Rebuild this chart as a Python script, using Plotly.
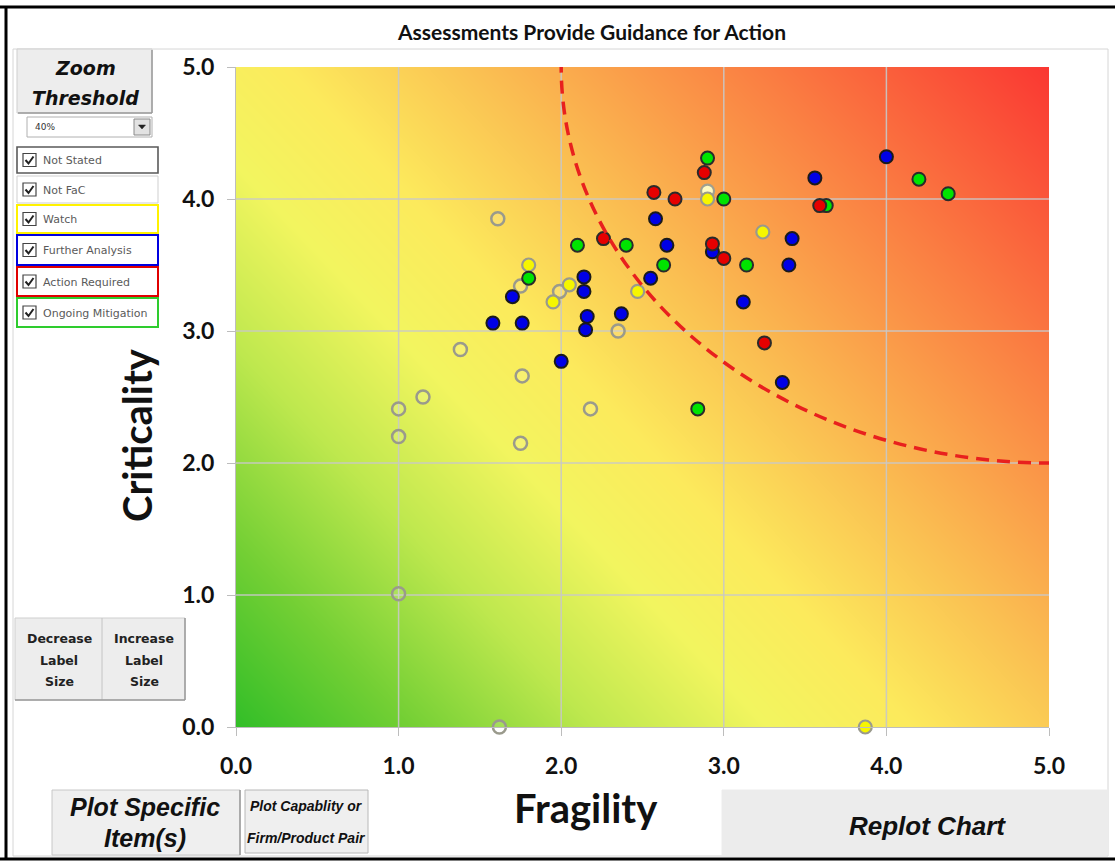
import plotly.graph_objects as go

# ---------------- data ----------------
x_ticks = [0, 1, 2, 3, 4, 5]
y_ticks = [0, 1, 2, 3, 4, 5]
tick_text = ["0.0", "1.0", "2.0", "3.0", "4.0", "5.0"]

# background risk field (columns = fragility 0..5, rows = criticality 0..5)
risk_x = [0, 1, 2, 3, 4, 5]
risk_y = [0, 1, 2, 3, 4, 5]
risk_z = [
    [0.0, 1.3, 2.6, 3.9, 5.2, 6.5],
    [1.0, 2.3, 3.6, 4.9, 6.2, 7.5],
    [2.0, 3.3, 4.6, 5.9, 7.2, 8.5],
    [3.0, 4.3, 5.6, 6.9, 8.2, 9.5],
    [4.0, 5.3, 6.6, 7.9, 9.2, 10.5],
    [5.0, 6.3, 7.6, 8.9, 10.2, 11.5],
]

not_stated_x = [1.61, 1.38, 1.00, 1.00, 1.15, 1.75, 1.99, 1.76, 1.75, 2.18, 2.35, 1.00, 1.62]
not_stated_y = [3.85, 2.86, 2.41, 2.20, 2.50, 3.34, 3.30, 2.66, 2.15, 2.41, 3.00, 1.01, 0.00]

not_fac_x = [2.90]
not_fac_y = [4.06]

watch_x = [1.80, 2.05, 1.95, 2.47, 3.24, 2.90, 3.87]
watch_y = [3.50, 3.35, 3.22, 3.30, 3.75, 4.00, 0.00]

further_x = [1.58, 1.76, 2.16, 2.15, 2.00, 1.70, 2.14, 2.14, 2.37, 2.58, 2.65, 2.55,
             2.93, 3.12, 3.42, 3.40, 3.56, 3.36, 4.00]
further_y = [3.06, 3.06, 3.11, 3.01, 2.77, 3.26, 3.41, 3.30, 3.13, 3.85, 3.65, 3.40,
             3.60, 3.22, 3.70, 3.50, 4.16, 2.61, 4.32]

mitig_x = [1.80, 2.10, 2.40, 2.63, 2.90, 3.00, 3.14, 3.63, 4.20, 4.38, 2.84]
mitig_y = [3.40, 3.65, 3.65, 3.50, 4.31, 4.00, 3.50, 3.95, 4.15, 4.04, 2.41]

action_x = [2.57, 2.70, 2.26, 2.88, 2.93, 3.00, 3.25, 3.59]
action_y = [4.05, 4.00, 3.70, 4.20, 3.66, 3.55, 2.91, 3.95]

# threshold arc: circle centred at (5,5) with radius 3
arc_cx, arc_cy, arc_r = 5, 5, 3

categories = ["Not Stated", "Not FaC", "Watch", "Further Analysis",
              "Action Required", "Ongoing Mitigation"]
category_colors = ["#5a5a5a", "#cfcfcf", "#fff200", "#0000e0", "#e00000", "#2ecc2e"]

# ---------------- layout geometry ----------------
W, H = 1115, 862
PL, PR, PT, PB = 236, 1049, 67, 727


def px(xp):
    return (xp - PL) / (PR - PL)


def py(yp):
    return (PB - yp) / (PB - PT)


fig = go.Figure()

fig.add_trace(go.Heatmap(
    x=risk_x, y=risk_y, z=risk_z, zsmooth="best", showscale=False,
    zmin=0, zmax=11.5, hoverinfo="skip",
    colorscale=[
        [0.00, "rgb(50,190,40)"],
        [0.12, "rgb(115,207,52)"],
        [0.25, "rgb(190,232,78)"],
        [0.37, "rgb(242,245,95)"],
        [0.47, "rgb(252,234,92)"],
        [0.60, "rgb(250,192,82)"],
        [0.80, "rgb(250,125,66)"],
        [1.00, "rgb(250,55,50)"],
    ],
))

# gridlines above the gradient (from tick arrays)
gx, gy = [], []
for v in x_ticks[1:-1]:
    gx += [v, v, None]
    gy += [y_ticks[0], y_ticks[-1], None]
for v in y_ticks[1:-1]:
    gx += [x_ticks[0], x_ticks[-1], None]
    gy += [v, v, None]
fig.add_trace(go.Scatter(x=gx, y=gy, mode="lines", hoverinfo="skip",
                         line=dict(color="rgba(200,200,200,0.9)", width=1.5),
                         showlegend=False))


def add_points(xs, ys, name, fill, outline, lw):
    fig.add_trace(go.Scatter(
        x=xs, y=ys, mode="markers", name=name, cliponaxis=False,
        marker=dict(size=13, color=fill, line=dict(color=outline, width=lw)),
        showlegend=False))


add_points(not_stated_x, not_stated_y, "Not Stated", "rgba(255,255,255,0.12)", "#9a9a8c", 2.5)
add_points(not_fac_x, not_fac_y, "Not FaC", "rgba(255,255,200,0.95)", "#a0a090", 2.2)
add_points(watch_x, watch_y, "Watch", "#f6f600", "#9a9a8c", 2.2)
add_points(mitig_x, mitig_y, "Ongoing Mitigation", "#00e400", "#2a2a2a", 2)
add_points(further_x, further_y, "Further Analysis", "#0000e6", "#1a1a1a", 2)
add_points(action_x, action_y, "Action Required", "#e60000", "#2a2a2a", 2)

shapes = []
# threshold arc (clipped to plot area)
shapes.append(dict(type="circle", xref="x", yref="y",
                   x0=arc_cx - arc_r, x1=arc_cx + arc_r, y0=arc_cy - arc_r, y1=arc_cy + arc_r,
                   line=dict(color="#e8201e", width=3.5, dash="13px,8px"), layer="above"))


def rect(x0, y0, x1, y1, fill="rgba(0,0,0,0)", line="#c8c8c8", lw=1):
    shapes.append(dict(type="rect", xref="paper", yref="paper",
                       x0=px(x0), x1=px(x1), y0=py(y1), y1=py(y0),
                       fillcolor=fill, line=dict(color=line, width=lw), layer="above"))


def hline(x0, x1, y, color, lw):
    shapes.append(dict(type="line", xref="paper", yref="paper", x0=px(x0), x1=px(x1),
                       y0=py(y), y1=py(y), line=dict(color=color, width=lw), layer="above"))


def vline(x, y0, y1, color, lw):
    shapes.append(dict(type="line", xref="paper", yref="paper", x0=px(x), x1=px(x),
                       y0=py(y0), y1=py(y1), line=dict(color=color, width=lw), layer="above"))


annotations = []


def text(x, y, s, size, family="Lato", color="#111", bold=False, italic=False,
         xanchor="center", angle=0):
    annotations.append(dict(
        x=px(x), y=py(y), xref="paper", yref="paper", text=s, showarrow=False,
        xanchor=xanchor, yanchor="middle", textangle=angle,
        font=dict(family=family, size=size, color=color,
                  weight="bold" if bold else "normal",
                  style="italic" if italic else "normal")))


# chart area border and outer frame
rect(13, 49, 1108, 856, line="#d6d6d6", lw=1)
hline(0, 1115, 7, "#000", 3)
vline(6, 7, 860, "#000", 3)
hline(0, 1115, 859, "#000", 3)

# title
text(591, 31, "Assessments Provide Guidance for Action", 21, bold=True)

# zoom threshold button
rect(17, 49, 152, 113, fill="#ededed", line="#cfcfcf")
vline(152, 50, 113, "#9a9a9a", 1.5)
hline(18, 152, 113, "#9a9a9a", 1.5)
text(85, 68, "Zoom", 19, family="DejaVu Sans", bold=True, italic=True)
text(85, 98, "Threshold", 19, family="DejaVu Sans", bold=True, italic=True)

# dropdown
rect(27, 117, 152, 137, fill="#ffffff", line="#b0b0b0")
text(33, 127, "40%", 9, family="DejaVu Sans", color="#333", xanchor="left")
rect(134, 119, 150, 135, fill="#e2e2e2", line="#8a8a8a")
shapes.append(dict(type="path", xref="paper", yref="paper",
                   path=f"M {px(138.5)},{py(125)} L {px(145.5)},{py(125)} L {px(142)},{py(129)} Z",
                   fillcolor="#222", line=dict(color="#222", width=0.5), layer="above"))

# checkbox list
item_boxes = [(147, 173), (176, 203), (205, 233), (235, 265), (267, 296), (298, 327)]
item_lw = [1.6, 1, 2, 2, 2, 2]
for (y0, y1), name, col, lw in zip(item_boxes, categories, category_colors, item_lw):
    rect(17, y0, 158, y1, fill="#ffffff", line=col, lw=lw)
    cy = (y0 + y1) / 2
    rect(23, cy - 6.5, 36, cy + 6.5, fill="#ffffff", line="#444", lw=1.2)
    shapes.append(dict(type="path", xref="paper", yref="paper",
                       path=f"M {px(25.5)},{py(cy)} L {px(28.5)},{py(cy + 3.5)} L {px(33.5)},{py(cy - 3.5)}",
                       line=dict(color="#222", width=2), layer="above"))
    text(41, cy + 0.5, name, 11, family="DejaVu Sans", color="#5a5a5a", xanchor="left")

# label size buttons
rect(15, 618, 185, 700, fill="#ededed", line="#cfcfcf")
vline(102, 618, 700, "#c4c4c4", 1)
vline(185, 618, 700, "#9a9a9a", 1.5)
hline(15, 185, 700, "#9a9a9a", 1.5)
for cx, word in [(59, "Decrease"), (144, "Increase")]:
    text(cx, 638, word, 12.5, family="DejaVu Sans", bold=True, color="#222")
    text(cx, 660, "Label", 12.5, family="DejaVu Sans", bold=True, color="#222")
    text(cx, 681, "Size", 12.5, family="DejaVu Sans", bold=True, color="#222")

# bottom buttons
rect(52, 790, 240, 855, fill="#efefef", line="#c8c8c8")
vline(240, 790, 855, "#9a9a9a", 1.5)
text(145, 807, "Plot Specific", 25, family="Liberation Sans", bold=True, italic=True)
text(145, 838, "Item(s)", 25, family="Liberation Sans", bold=True, italic=True)

rect(245, 790, 368, 853, fill="#efefef", line="#b8b8b8")
text(306, 806, "Plot Capablity or", 14, family="Liberation Sans", bold=True, italic=True)
text(306, 838, "Firm/Product Pair", 14, family="Liberation Sans", bold=True, italic=True)

rect(722, 790, 1108, 855, fill="#ececec", line="#ececec")
text(927, 826, "Replot Chart", 26, family="Liberation Sans", bold=True, italic=True)

# axis titles
text(586, 808, "Fragility", 40, bold=True)
text(137, 435, "Criticality", 40, bold=True, angle=-90)

axis_common = dict(
    range=[0, 5], showgrid=False, zeroline=False, showline=True,
    linecolor="#bdbdbd", linewidth=1, ticks="outside", ticklen=8,
    tickcolor="#bdbdbd", ticktext=tick_text,
    tickfont=dict(family="Lato", size=23, color="#111", weight="bold"),
)
fig.update_layout(
    width=W, height=H, autosize=False,
    margin=dict(l=PL, r=W - PR, t=PT, b=H - PB, pad=0),
    paper_bgcolor="#ffffff", plot_bgcolor="#ffffff",
    xaxis=dict(tickvals=x_ticks, ticklabelstandoff=10, **axis_common),
    yaxis=dict(tickvals=y_ticks, ticklabelstandoff=8, **axis_common),
    shapes=shapes, annotations=annotations, showlegend=False,
)

fig.write_html("out.html", config={"displayModeBar": False},
               post_script="document.body.style.margin='0px';document.body.style.overflow='hidden';")
